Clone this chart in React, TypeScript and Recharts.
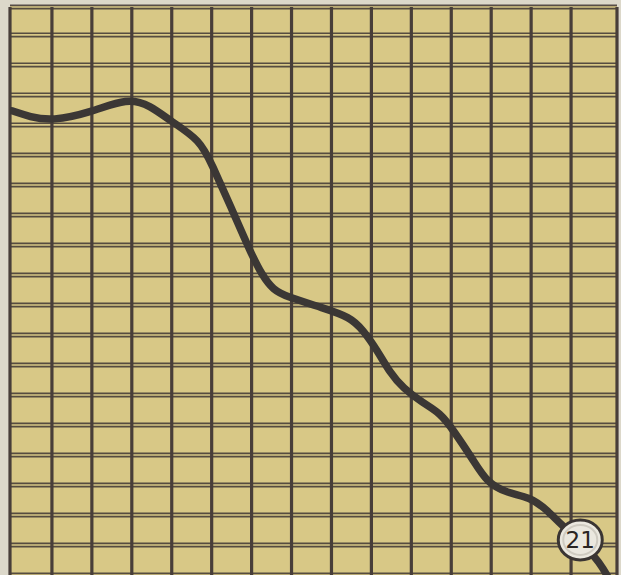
import React from 'react'
import { LineChart, Line, XAxis, YAxis, CartesianGrid } from 'recharts'

// grid paper: columns and rows (in grid squares)
const X_MIN = -1.05
const X_MAX = 14.15
const Y_MAX = 18.93
const xTicks = [X_MIN, 0, 1, 2, 3, 4, 5, 6, 7, 8, 9, 10, 11, 12, 13, X_MAX]
const yTicks = [1, 2, 3, 4, 5, 6, 7, 8, 9, 10, 11, 12, 13, 14, 15, 16, 17, 18, Y_MAX]

// hand drawn curve
const xs = [
  -1.0, -0.55, 0, 0.98, 1.9, 2.45, 2.98, 3.71, 4.01, 4.46, 4.98, 5.26, 5.54, 5.89, 6.79, 7.46,
  7.79, 8.14, 8.47, 8.79, 9.29, 9.72, 10.05, 10.55, 10.9, 11.4, 11.97, 12.4, 12.8, 13.23, 13.73,
  13.98,
]
const ys = [
  15.47, 15.27, 15.13, 15.42, 15.9, 15.66, 15.12, 14.5, 13.67, 12.33, 10.73, 10.0, 9.5, 9.27, 8.9,
  8.6, 8.17, 7.5, 6.73, 6.23, 5.73, 5.4, 4.83, 3.83, 3.07, 2.73, 2.6, 2.17, 1.6, 1.17, 0.4, -0.2,
]
const labels = xs.map((_, i) => (i === 29 ? '21' : ''))

const data = xs.map((x, i) => ({ x, y: ys[i], label: labels[i] }))

const PAPER = '#d8c886'
const INK = '#483e39'

function Marker(props: any) {
  const { cx, cy, index, payload } = props
  if (!payload || !payload.label) return <g key={index} />
  return (
    <g key={index}>
      <ellipse cx={cx} cy={cy} rx={22} ry={20} fill="#ebe8df" stroke="#3a3533" strokeWidth={3} />
      <ellipse cx={cx} cy={cy} rx={17} ry={15} fill="none" stroke="#cfcbc1" strokeWidth={2} />
      <text
        x={cx}
        y={cy + 8}
        textAnchor="middle"
        fontFamily="DejaVu Sans"
        fontSize={23}
        fontWeight={500}
        fill="#2a2522"
      >
        {payload.label}
      </text>
    </g>
  )
}

export default function App() {
  return (
    <div style={{ position: 'fixed', left: 0, top: 0, width: 621, height: 575, background: '#dcd8ca' }}>
      <LineChart width={621} height={575} data={data} margin={{ top: 7, right: 4, bottom: 0, left: 10 }}>
        <CartesianGrid vertical={false} fill={PAPER} stroke={INK} strokeWidth={5} strokeOpacity={0.9} />
        <CartesianGrid vertical={false} stroke={PAPER} strokeWidth={1.6} />
        <CartesianGrid horizontal={false} stroke={INK} strokeWidth={3.2} />
        <XAxis
          dataKey="x"
          type="number"
          domain={[X_MIN, X_MAX]}
          ticks={xTicks}
          allowDataOverflow
          hide
        />
        <YAxis type="number" domain={[0, Y_MAX]} ticks={yTicks} allowDataOverflow hide />
        <Line
          dataKey="y"
          type="basis"
          stroke="#3b3735"
          strokeWidth={7.5}
          strokeLinecap="round"
          dot={(p: any) => <Marker key={p.index} {...p} />}
          activeDot={false}
          isAnimationActive={false}
        />
      </LineChart>
    </div>
  )
}
